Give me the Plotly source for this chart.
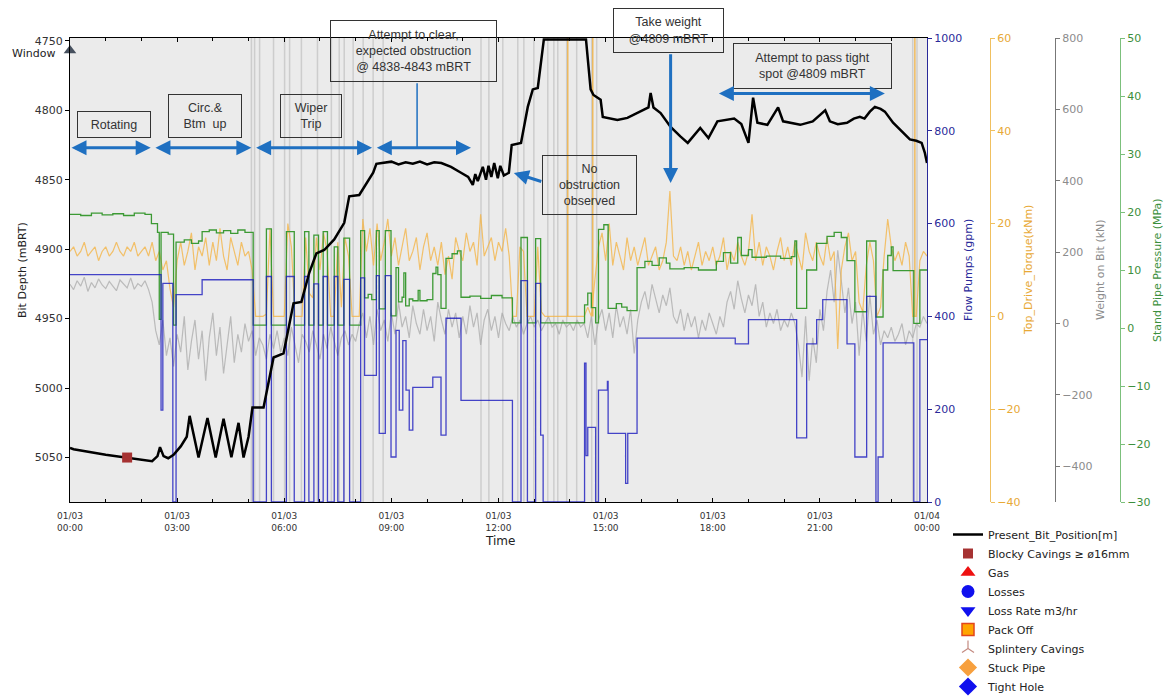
import pandas as pd
import plotly.graph_objects as go

W, H = 1165, 696
BASE = pd.Timestamp("2021-01-03 00:00")

# ---------------- data ----------------
# Present bit position: (hour, depth mBRT)
depth_track = [
    (0.0, 5043), (0.1, 5044), (1.0, 5048), (1.6, 5050), (2.3, 5052.6), (2.45, 5049),
    (2.52, 5042.5), (2.62, 5049), (2.75, 5050.5), (2.9, 5048), (3.1, 5042), (3.27, 5035),
    (3.35, 5020), (3.6, 5050), (3.85, 5021.6), (4.08, 5050), (4.3, 5022), (4.52, 5049.7),
    (4.72, 5025), (4.86, 5050), (5.0, 5035), (5.11, 5014), (5.42, 5014), (5.7, 4978),
    (5.98, 4975), (6.26, 4939), (6.48, 4938), (6.7, 4917), (6.9, 4903), (7.12, 4900.6),
    (7.4, 4893), (7.68, 4881), (7.82, 4862), (8.1, 4861), (8.2, 4857), (8.49, 4845),
    (8.58, 4838.6), (8.8, 4838), (9.0, 4837), (9.2, 4839), (9.4, 4837.5), (9.6, 4838.5),
    (9.8, 4837), (10.0, 4839), (10.2, 4837.5), (10.4, 4838), (10.67, 4840.8), (10.95, 4845),
    (11.15, 4848), (11.28, 4853.8), (11.35, 4846), (11.42, 4851), (11.56, 4840.8),
    (11.65, 4850), (11.72, 4840), (11.8, 4848), (11.88, 4838), (11.98, 4849), (12.05, 4840),
    (12.15, 4847), (12.29, 4845), (12.37, 4825), (12.63, 4823.5), (12.82, 4797.6),
    (12.96, 4785), (13.1, 4784), (13.27, 4749), (14.45, 4749), (14.58, 4785), (14.66, 4789),
    (14.86, 4792.5), (14.92, 4804.8), (15.06, 4805.5), (15.33, 4807), (15.61, 4805.5),
    (15.8, 4803), (16.06, 4800), (16.2, 4798), (16.26, 4787.5), (16.34, 4798), (16.54, 4802),
    (16.82, 4812), (17.1, 4819), (17.3, 4823.5), (17.65, 4812.7), (17.88, 4820), (18.13, 4808),
    (18.4, 4807), (18.6, 4806), (18.8, 4810), (19.0, 4823.5), (19.13, 4791), (19.25, 4809),
    (19.53, 4810.5), (19.83, 4798), (19.97, 4808), (20.2, 4809), (20.45, 4810.5), (20.8, 4808),
    (21.15, 4800), (21.28, 4808), (21.5, 4810), (21.76, 4809), (21.95, 4806), (22.12, 4804.8),
    (22.25, 4806), (22.4, 4801), (22.54, 4797.6), (22.7, 4799), (22.82, 4801), (23.05, 4809),
    (23.2, 4813), (23.32, 4816), (23.52, 4821), (23.7, 4822), (23.85, 4823.5), (23.94, 4830.7),
    (24.0, 4838),
]

# Flow pumps (gpm), step changes: (hour, value)
flow_steps = [
    (0.0, 490), (2.55, 198), (2.6, 471), (2.88, 0), (2.97, 447), (3.7, 479), (5.13, 0),
    (5.5, 486), (5.64, 0), (6.06, 486), (6.28, 0), (6.57, 486), (6.69, 0), (6.83, 470),
    (6.96, 0), (7.09, 486), (7.21, 0), (7.4, 486), (7.5, 0), (7.67, 480), (7.83, 0),
    (8.14, 483), (8.25, 273), (8.58, 488), (8.66, 148), (8.83, 488), (8.99, 97), (9.13, 370),
    (9.22, 198), (9.32, 348), (9.41, 241), (9.5, 155), (9.6, 247), (10.16, 269), (10.39, 144),
    (10.53, 396), (10.95, 219), (12.39, 0), (12.63, 477), (12.81, 0), (13.04, 471),
    (13.18, 144), (13.25, 0), (14.41, 299), (14.45, 100), (14.5, 161), (14.72, 0), (14.8, 241),
    (15.05, 260), (15.07, 148), (15.56, 40), (15.62, 148), (15.88, 353), (18.63, 341),
    (19.0, 393), (20.35, 138), (20.63, 341), (20.91, 393), (21.08, 436), (21.76, 341),
    (21.98, 97), (22.31, 443), (22.57, 0), (22.63, 97), (22.77, 343), (23.63, 0), (23.8, 350),
    (24.0, 350),
]

# Stand pipe pressure (MPa), steps: (hour, value)
spp_steps = [
    (0.0, 19.6), (0.3, 19.4), (0.6, 19.8), (0.9, 19.5), (1.2, 19.7), (1.5, 19.4), (1.8, 19.8),
    (2.1, 19.6), (2.28, 18.0), (2.45, 16.5), (2.5, 1.5), (2.55, 16.5), (2.75, 16.2), (2.9, 0.5),
    (2.97, 14.8), (3.2, 15.2), (3.4, 14.6), (3.6, 15.0), (3.7, 16.6), (3.9, 16.9), (4.1, 16.4),
    (4.3, 16.8), (4.5, 16.3), (4.7, 16.9), (4.9, 16.5), (5.13, 0.5), (5.5, 17.1), (5.64, 0.5),
    (6.06, 16.6), (6.28, 0.5), (6.57, 16.6), (6.69, 0.5), (6.83, 16.0), (6.96, 0.5),
    (7.09, 16.6), (7.21, 0.5), (7.4, 14.0), (7.5, 0.5), (7.67, 15.5), (7.83, 0.5), (8.14, 16.8),
    (8.25, 5.2), (8.35, 5.8), (8.45, 4.9), (8.58, 16.8), (8.66, 3.3), (8.83, 16.8), (8.99, 2.1),
    (9.13, 10.4), (9.2, 4.5), (9.3, 5.3), (9.35, 9.5), (9.4, 3.8), (9.5, 5.0), (9.6, 4.7),
    (9.75, 6.5), (9.8, 4.7), (10.0, 4.9), (10.16, 9.4), (10.25, 10.5), (10.3, 9.2),
    (10.39, 3.4), (10.53, 12.0), (10.7, 12.8), (10.85, 13.3), (10.95, 5.3), (11.2, 5.5),
    (11.5, 5.1), (11.8, 5.6), (12.1, 5.2), (12.39, 0.9), (12.63, 15.6), (12.81, 0.9),
    (13.04, 15.4), (13.18, 0.9), (14.41, 4.0), (14.5, 6.0), (14.6, 3.5), (14.72, 0.9),
    (14.8, 17.0), (14.95, 17.8), (15.07, 3.4), (15.3, 4.2), (15.45, 3.6), (15.6, 3.0),
    (15.88, 10.4), (16.1, 11.5), (16.3, 10.8), (16.5, 12.1), (16.7, 11.2), (16.8, 10.2),
    (17.2, 10.4), (17.6, 10.0), (18.1, 11.5), (18.3, 13.0), (18.5, 11.2), (18.7, 15.6),
    (18.8, 12.5), (19.0, 13.5), (19.1, 12.2), (19.5, 12.4), (19.9, 12.0), (20.2, 12.3),
    (20.3, 15.0), (20.35, 3.4), (20.63, 10.0), (20.91, 14.6), (21.2, 15.8), (21.4, 16.5),
    (21.6, 15.6), (21.76, 11.6), (21.98, 2.8), (22.31, 15.0), (22.57, 1.9), (22.77, 10.0),
    (22.9, 12.5), (23.0, 14.0), (23.05, 9.9), (23.63, 0.8), (23.8, 10.0), (24.0, 10.0),
]

# Top drive torque (kNm), one reading every 0.1 h from 00:00
torque_knm = [
    14, 15, 13, 14, 16, 13, 14, 15, 12, 14,
    15, 13, 14, 16, 14, 13, 15, 14, 16, 13,
    14, 15, 13, 16, 12, 14, 10, 12, 6, 2,
    12, 16, 11, 14, 18, 10, 15, 13, 17, 11,
    16, 12, 19, 13, 10, 17, 14, 11, 16, 13,
    14, 10, 0, 0, 0, 0.5, 19, 0, 0, 0,
    0, 20, 15, 0, 0, 0, 17, 5, 4, 17,
    10, 18, 14, 0, 0, 16, 2, 17, 13, 0,
    0, 0, 21, 14, 19, 11, 20, 12, 16, 21,
    13, 17, 11, 15, 19, 12, 14, 17, 10, 15,
    18, 12, 15, 11, 16, 9, 13, 8, 17, 14,
    12, 18, 14, 16, 11, 22, 13, 15, 17, 12,
    16, 14, 19, 13, 0, 0, 15, 14, 0, 0,
    0, 15, 1, 0, 0, 0, 0, 0, 0, 0,
    0, 0, 0, 0, 0, 2, 0, 8, 15, 18,
    12, 20, 11, 16, 13, 10, 17, 12, 15, 11,
    14, 17, 11, 13, 15, 10, 12, 16, 27, 13,
    12, 15, 11, 14, 10, 13, 16, 11, 14, 12,
    15, 11, 13, 17, 10, 14, 12, 16, 13, 11,
    14, 22, 12, 16, 11, 15, 13, 10, 14, 17,
    12, 15, 11, 16, 13, 10, 18, 14, 12, 16,
    13, 11, 17, 12, 14, -7, 10, 15, 18, 12,
    14, 3, 1, 11, 16, 12, 0, 2, 13, 21,
    15, 12, 14, 11, 16, 13, 0, 0, 12, 14,
    13,
]

# Weight on bit (kN), one reading every 0.1 h from 00:00
wob_kn = [
    110, 95, 120, 105, 130, 90, 115, 100, 125, 108,
    98, 118, 105, 92, 122, 110, 100, 128, 96, 112,
    104, 120, 95, 60, -20, -60, 10, -90, -40, -120,
    -30, -80, 20, -130, -50, 10, -100, -20, -160, -40,
    30, -90, -10, -140, -60, 20, -110, -30, -80, 0,
    -50, -20, -90, -40, -60, -100, -30, -70, -20, -80,
    -40, -90, -10, -60, -110, -30, -50, -80, -20, -60,
    -100, -30, -70, -10, -50, -90, -40, -20, -60, -30,
    -50, 0, 30, -40, 20, -60, 40, -20, 10, -50,
    30, -30, 60, -10, 20, -40, 50, 0, -30, 40,
    -20, 20, -50, 60, 10, -30, 40, -10, 30, -40,
    20, -30, 50, -10, 30, -60, 10, 40, -20, 20,
    -40, 30, 0, -20, 20, -10, 10, -30, 0, 20,
    -10, 10, -20, 0, 20, -10, 0, -30, 10, -10,
    0, -20, 10, -10, 0, -40, 20, -60, 10, 40,
    -20, 30, -40, 50, -10, 20, -30, 40, -84, 10,
    60, 90, 40, 110, 70, 30, 80, 50, 100, 20,
    0, 40, -20, 30, -10, 20, -40, 10, -20, 30,
    0, -30, 20, -10, 60, 90, 40, 120, 70, 30,
    80, 50, 110, 20, 60, -10, 30, 0, 40, -20,
    10, -10, 30, 0, -60, -150, 20, -160, -40, -110,
    40, -20, 90, 150, 60, 205, 120, 30, 100, 0,
    60, -90, 40, -50, 80, -30, 10, -60, -20, -40,
    -10, -50, -30, 0, -60, -20, -40, 0, -10, 20,
    0,
]

# Hours where WOB / torque readings spike off-scale (full-height streaks)
wob_spike_hours = [5.08, 5.17, 5.31, 5.70, 6.01, 6.15, 6.48, 6.93, 7.32, 7.54, 7.68, 7.93,
                   8.21, 8.49, 8.77, 11.51, 11.73, 12.12, 12.54, 12.71, 12.99, 13.38, 13.55,
                   13.66, 13.91, 14.19, 14.61, 14.75, 23.60, 23.72]
torque_spike_hours = [13.94, 14.64, 23.66]

# Events
blocky_cavings = [(1.6, 5050)]
window_mark = [(0.0, 4757)]

# Annotations
phase_arrows = [(0.0, 2.26, 4827), (2.35, 5.08, 4827), (5.17, 8.46, 4827),
                (8.55, 11.23, 4827), (18.13, 22.82, 4788)]

# ---------------- helpers ----------------
def ts(h):
    return (BASE + pd.Timedelta(hours=float(h))).strftime("%Y-%m-%d %H:%M:%S")

def px(x):
    return x / W

def py(y):
    return 1 - y / H

depth_hours = [p[0] for p in depth_track]
depth_m = [p[1] for p in depth_track]
flow_hours = [p[0] for p in flow_steps]
flow_gpm = [p[1] for p in flow_steps]
spp_hours = [p[0] for p in spp_steps]
spp_mpa = [p[1] for p in spp_steps]
torque_hours = [i * 0.1 for i in range(len(torque_knm))]
wob_hours = [i * 0.1 for i in range(len(wob_kn))]

FLOW_C = "rgba(25,25,190,0.8)"
FLOW_T = "#2a2a9a"
TORQ_C = "rgba(244,178,62,0.75)"
TORQ_T = "#e8a936"
WOB_C = "rgba(165,165,165,0.7)"
WOB_T = "#8c8c8c"
SPP_C = "#3c9a34"
SPP_T = "#3c8f3c"
ARROW_C = "#1f70c1"
TXT = "#333333"

fig = go.Figure()

# WOB (base axis)
sx, sy = [], []
for h in wob_spike_hours:
    sx += [ts(h), ts(h), None]
    sy += [-500, 800, None]
fig.add_trace(go.Scatter(x=sx, y=sy, mode="lines", line=dict(color="rgba(200,200,200,0.85)", width=1.5),
                         showlegend=False, hoverinfo="skip", yaxis="y"))
fig.add_trace(go.Scatter(x=[ts(h) for h in wob_hours], y=wob_kn, mode="lines",
                         line=dict(color=WOB_C, width=1.2), showlegend=False, yaxis="y"))

# Torque
tx, tyv = [], []
for h in torque_spike_hours:
    tx += [ts(h), ts(h), None]
    tyv += [0, 70, None]
fig.add_trace(go.Scatter(x=tx, y=tyv, mode="lines", line=dict(color="rgba(240,175,60,0.8)", width=1.5),
                         showlegend=False, hoverinfo="skip", yaxis="y2"))
fig.add_trace(go.Scatter(x=[ts(h) for h in torque_hours], y=torque_knm, mode="lines",
                         line=dict(color=TORQ_C, width=1.2), showlegend=False, yaxis="y2"))

# SPP
fig.add_trace(go.Scatter(x=[ts(h) for h in spp_hours], y=spp_mpa, mode="lines", line_shape="hv",
                         line=dict(color=SPP_C, width=1.3), showlegend=False, yaxis="y3"))

# Flow
fig.add_trace(go.Scatter(x=[ts(h) for h in flow_hours], y=flow_gpm, mode="lines", line_shape="hv",
                         line=dict(color=FLOW_C, width=1.3), showlegend=False, yaxis="y4"))

# Depth and events
fig.add_trace(go.Scatter(x=[ts(h) for h in depth_hours], y=depth_m, mode="lines",
                         line=dict(color="black", width=2.5), name="Present_Bit_Position[m]", yaxis="y5"))
fig.add_trace(go.Scatter(x=[ts(p[0]) for p in blocky_cavings], y=[p[1] for p in blocky_cavings],
                         mode="markers", marker=dict(symbol="square", size=10, color="#a63232"),
                         name="Blocky Cavings \u2265 \u00f816mm", yaxis="y5"))
legend_only = [
    ("Gas", dict(symbol="triangle-up", size=13, color="#ee1111")),
    ("Losses", dict(symbol="circle", size=13, color="#1010ee")),
    ("Loss Rate m3/hr", dict(symbol="triangle-down", size=13, color="#1010ee")),
    ("Pack Off", dict(symbol="square", size=12, color="#ffa500", line=dict(color="#e2461c", width=1.5))),
    ("Splintery Cavings", dict(symbol="y-up", size=10, color="#c48a80", line=dict(color="#c48a80", width=1.2))),
    ("Stuck Pipe", dict(symbol="diamond", size=14, color="#f7a03e")),
    ("Tight Hole", dict(symbol="diamond", size=14, color="#1010ee")),
]
for name, mk in legend_only:
    fig.add_trace(go.Scatter(x=[None], y=[None], mode="markers", marker=mk, name=name, yaxis="y5"))
fig.add_trace(go.Scatter(x=[ts(p[0]) for p in window_mark], y=[p[1] for p in window_mark],
                         mode="markers", marker=dict(symbol="triangle-up", size=11, color="#46505e"),
                         cliponaxis=False, showlegend=False, yaxis="y5"))

XD = [px(70), px(927)]
YD = [py(502), py(38)]
tick_font = dict(family="DejaVu Sans", size=11)

fig.update_layout(
    width=W, height=H, margin=dict(l=0, r=0, t=0, b=0, autoexpand=False),
    paper_bgcolor="white", plot_bgcolor="#ebebeb",
    showlegend=True,
    legend=dict(x=px(948), y=py(520), xanchor="left", yanchor="top", bgcolor="rgba(0,0,0,0)",
                font=dict(family="DejaVu Sans", size=11, color="#222"), itemwidth=30),
    xaxis=dict(domain=XD, type="date", range=[ts(0), ts(24)], anchor="y", showgrid=False,
               showline=True, linecolor="black", linewidth=1, mirror="ticks",
               ticks="inside", ticklen=4, tickcolor="black", tick0=ts(0), dtick=3 * 3600000,
               tickformat="%m/%d<br>%H:%M", tickfont=dict(family="DejaVu Sans", size=9, color=TXT),
               ticklabelstandoff=5,
               minor=dict(dtick=3600000, ticks="inside", ticklen=3, tickcolor="black"),
               zeroline=False, automargin=False),
    yaxis=dict(domain=YD, range=[-500, 800], anchor="free", position=px(1055), side="right",
               showline=True, linecolor="#777", ticks="outside", ticklen=4, tickcolor="#777",
               tickvals=[-400, -200, 0, 200, 400, 600, 800], tickfont=dict(tick_font, color=WOB_T),
               showgrid=False, zeroline=False, automargin=False),
    yaxis2=dict(domain=YD, range=[-40, 60], overlaying="y", anchor="free", position=px(990), side="right",
                showline=True, linecolor="#f0c060", ticks="outside", ticklen=4, tickcolor="#f0c060",
                dtick=20, tickfont=dict(tick_font, color=TORQ_T), showgrid=False, zeroline=False,
                automargin=False),
    yaxis3=dict(domain=YD, range=[-30, 50], overlaying="y", anchor="free", position=px(1120), side="right",
                showline=True, linecolor="#7cc07c", ticks="outside", ticklen=4, tickcolor="#7cc07c",
                dtick=10, tickfont=dict(tick_font, color=SPP_T), showgrid=False, zeroline=False,
                automargin=False),
    yaxis4=dict(domain=YD, range=[0, 1000], overlaying="y", anchor="x", side="right",
                showline=True, linecolor="#2a2a9a", ticks="outside", ticklen=4, tickcolor="#2a2a9a",
                dtick=200, tickfont=dict(tick_font, color=FLOW_T), showgrid=False, zeroline=False,
                automargin=False),
    yaxis5=dict(domain=YD, range=[5082, 4748], overlaying="y", anchor="x", side="left",
                showline=True, linecolor="black", ticks="outside", ticklen=4, tickcolor="black",
                tickvals=[4750, 4800, 4850, 4900, 4950, 5000, 5050],
                tickfont=dict(tick_font, color=TXT), showgrid=False, zeroline=False, automargin=False),
)

# axis titles
titles = [
    ("Bit Depth (mBRT)", 22, "#222"),
    ("Flow Pumps (gpm)", 968, FLOW_T),
    ("Top_Drive_Torque(kNm)", 1028, TORQ_T),
    ("Weight on Bit (kN)", 1100, WOB_T),
    ("Stand Pipe Pressure (MPa)", 1157, SPP_T),
]
for text, x, c in titles:
    fig.add_annotation(xref="paper", yref="paper", x=px(x), y=py(270), text=text, textangle=-90,
                       showarrow=False, font=dict(family="DejaVu Sans", size=11, color=c),
                       xanchor="center", yanchor="middle")
fig.add_annotation(xref="paper", yref="paper", x=px(500), y=py(541), text="Time", showarrow=False,
                   font=dict(family="DejaVu Sans", size=12, color="#222"), xanchor="center", yanchor="middle")
fig.add_annotation(xref="paper", yref="paper", x=px(33), y=py(53), text="Window", showarrow=False,
                   font=dict(family="DejaVu Sans", size=11, color="#222"), xanchor="center", yanchor="middle")

# text boxes
boxes = [
    ("Rotating", 114, 124.5, 74, 27),
    ("Circ.&amp;<br>Btm  up", 205, 116, 74, 44),
    ("Wiper<br>Trip", 311, 116, 62, 44),
    ("Attempt to clear,<br>expected obstruction<br>@ 4838-4843 mBRT", 413.5, 51, 167, 62),
    ("No<br>obstruction<br>observed", 589.5, 185, 95, 60),
    ("Take weight<br>@4809 mBRT", 668.5, 30.5, 111, 45),
    ("Attempt to pass tight<br>spot @4809 mBRT", 812.5, 66, 159, 46),
]
for text, cx, cy, w, h in boxes:
    fig.add_annotation(xref="paper", yref="paper", x=px(cx), y=py(cy), text=text, showarrow=False,
                       width=w - 2, height=h - 2, bordercolor="#333", borderwidth=1, borderpad=0,
                       bgcolor="rgba(0,0,0,0)", align="center", valign="middle",
                       font=dict(family="Liberation Sans, Arial", size=12.5, color=TXT),
                       xanchor="center", yanchor="middle")

# double-headed phase arrows
for h0, h1, d in phase_arrows:
    fig.add_annotation(x=ts(h1), y=d, ax=ts(h0), ay=d, xref="x", yref="y5", axref="x", ayref="y5",
                       text="", showarrow=True, arrowhead=2, startarrowhead=2, arrowside="end+start",
                       arrowsize=1, startarrowsize=1, arrowwidth=3, arrowcolor=ARROW_C)
# connector from box to arrow
fig.add_annotation(x=ts(9.72), y=4827, ax=ts(9.72), ay=4779.5, xref="x", yref="y5", axref="x", ayref="y5",
                   text="", showarrow=True, arrowhead=0, arrowwidth=1.5, arrowcolor=ARROW_C)
# no obstruction pointer
fig.add_annotation(x=ts(12.43), y=4845.1, ax=ts(13.24), ay=4851.6, xref="x", yref="y5", axref="x", ayref="y5",
                   text="", showarrow=True, arrowhead=2, arrowsize=1, arrowwidth=3, arrowcolor=ARROW_C)
# take weight pointer
fig.add_annotation(x=ts(16.82), y=4852.3, ax=ts(16.82), ay=4758.6, xref="x", yref="y5", axref="x", ayref="y5",
                   text="", showarrow=True, arrowhead=2, arrowsize=1, arrowwidth=3, arrowcolor=ARROW_C)

fig.write_html("out.html", config={"displayModeBar": False},
               post_script="document.body.style.margin='0px';document.body.style.overflow='hidden';")
